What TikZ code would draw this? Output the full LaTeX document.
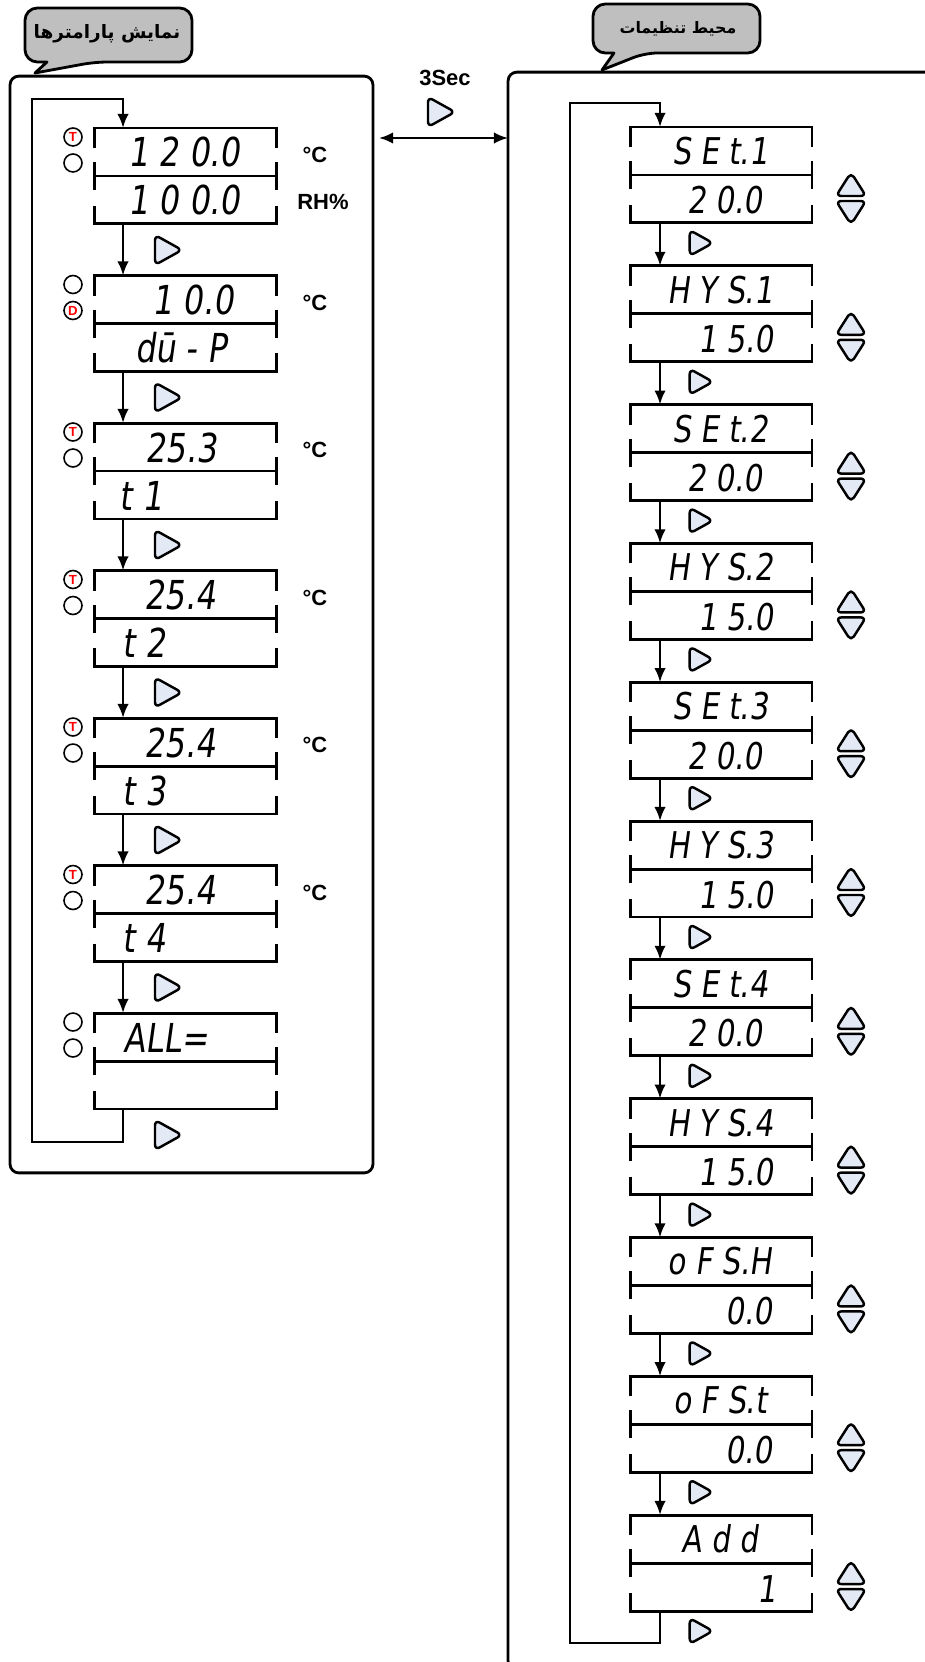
\documentclass[tikz,border=0pt]{standalone}
\usepackage{fontspec}
\setmainfont{Liberation Sans}
\newfontfamily\segfont[FakeStretch=0.8,FakeSlant=0.14]{DejaVu Sans}
\newfontfamily\farsifont[Script=Arabic]{DejaVu Sans}
\TeXXeTstate=1
\usepackage{xcolor}
\usepackage{tikz}
\usetikzlibrary{calc, arrows.meta}

\definecolor{keyblue}{HTML}{E3E9F5}
\definecolor{bubblegray}{HTML}{BFBFBF}

\tikzset{
  panel/.style={draw, line width=1.6pt, rounded corners=5pt, inner sep=0pt, outer sep=0pt},
  lcd/.style={inner sep=0pt, outer sep=0pt, minimum height=1.92cm},
  frame/.style={line width=1.7pt},
  segl/.style={inner sep=0pt, anchor=base, font=\fontsize{22.7}{24}\segfont},
  segr/.style={inner sep=0pt, anchor=base, font=\fontsize{21}{23}\segfont},
  led/.style={draw, circle, line width=0.9pt, minimum size=0.36cm, inner sep=0pt, text=red, font=\fontsize{7.5}{8}\selectfont\bfseries},
  unit/.style={inner sep=0pt, font=\fontsize{12.5}{14}\selectfont\bfseries},
  flow/.style={line width=1.4pt},
  key/.style={draw, fill=keyblue, line width=1.4pt, rounded corners=3pt, line join=round},
  bubble/.style={draw, fill=bubblegray, line width=1.6pt, line join=round},
  title/.style={inner sep=0pt, font=\farsifont\bfseries\fontsize{#1}{15}\selectfont},
  nextkey/.pic={\draw[key] (-12,-15) -- (15,0) -- (-12,15) -- cycle;},
  updown/.pic={\draw[key] (-15,-2.5) -- (0,-26) -- (15,-2.5) -- cycle;
               \draw[key] (-15,2.5) -- (0,26) -- (15,2.5) -- cycle;},
}

% frame of one display, gaps in the sides
\newcommand{\lcdframe}[1]{%
  \draw[frame] ($(#1.north west)+(0,20)$) -- (#1.north west) -- (#1.north east) -- ($(#1.north east)+(0,20)$);
  \draw[frame] ($(#1.north west)+(0,34)$) -- ($(#1.north west)+(0,62)$);
  \draw[frame] ($(#1.north east)+(0,34)$) -- ($(#1.north east)+(0,62)$);
  \draw[frame] (#1.west) -- (#1.east);
  \draw[frame] ($(#1.south west)+(0,-18)$) -- (#1.south west) -- (#1.south east) -- ($(#1.south east)+(0,-18)$);
}

\begin{document}
\begin{tikzpicture}[x=0.02cm, y=-0.02cm, >={Latex[length=8pt,width=6.5pt]}]
    \useasboundingbox (0,0) rectangle (925,1662);

    % two panels
    \node[panel, minimum width=7.26cm, minimum height=21.94cm] (lpanel) at (191.5,624.5) {};
    \node[panel, minimum width=9.04cm, minimum height=31.96cm] (rpanel) at (734,871) {};

    % callouts
    \draw[bubble] (47,62) [rounded corners=7pt] -- (25,62) -- (25,8) -- (192,8) -- (192,62) -- (95,62) [sharp corners] -- (35,73) -- cycle;
    \node[title=10.5] (ltitle) at (107,34) {\beginR نمایش پارامترها\endR};
    \draw[bubble] (614,53) [rounded corners=7pt] -- (593,53) -- (593,4) -- (760,4) -- (760,53) -- (645,53) [sharp corners] -- (602,70) -- cycle;
    \node[title=9] (rtitle) at (678,29) {\beginR محیط تنظیمات\endR};

    % switch between panels
    \node[unit] (hold) at (445,78) {3Sec};
    \pic at (440,112) {nextkey};
    \coordinate (sw) at (0,138);
    \draw[flow,<->] ($(lpanel.east |- sw)+(6,0)$) -- (rpanel.west |- sw);

    % parameter displays
    \foreach \i/\ta/\xa/\tb/\xb in {0/{1 2 0.0}/184/{1 0 0.0}/184, 1/{1 0.0}/193/{dū - P}/181,
        2/{25.3}/181/{t 1}/141, 3/{25.4}/180/{t 2}/144, 4/{25.4}/180/{t 3}/144,
        5/{25.4}/180/{t 4}/144, 6/{ALL=}/166/{}/166} {
        \pgfmathsetmacro\t{128+147.5*\i}
        \node[lcd, minimum width=3.66cm] (l\i) at (185.5,\t+48) {};
        \lcdframe{l\i}
        \node[segl] (l\i-a) at (\xa,\t+39) {\ta};
        \node[segl] (l\i-b) at (\xb,\t+87) {\tb};
        \pic at (167,\t+122) {nextkey};
    }
    \foreach \i/\lt/\lb in {0/T/{}, 1/{}/D, 2/T/{}, 3/T/{}, 4/T/{}, 5/T/{}, 6/{}/{}} {
        \pgfmathsetmacro\t{128+147.5*\i}
        \node[led] (l\i-t) at (73,\t+9) {\lt};
        \node[led] (l\i-d) at (73,\t+35) {\lb};
    }
    \foreach \i in {0,...,5} {
        \pgfmathsetmacro\t{128+147.5*\i}
        \node[unit] (l\i-u) at (315,\t+27) {°C};
    }
    \node[unit] (l0-rh) at (323,202) {RH\%};

    \foreach \i in {0,...,5} {
        \pgfmathtruncatemacro\j{\i+1}
        \draw[flow,->] ($(l\i.south west)+(29,0)$) -- ($(l\j.north west)+(29,0)$);
    }
    \coordinate (lret-b) at (32,1142);
    \coordinate (lret-t) at (32,99);
    \draw[flow,->] ($(l6.south west)+(29,0)$) |- (lret-b) -- (lret-t) -| ($(l0.north west)+(29,0)$);

    % settings displays
    \foreach \i/\ta/\tb/\xb in {0/{S E t.1}/{2 0.0}/725, 1/{H Y S.1}/{1 5.0}/736,
        2/{S E t.2}/{2 0.0}/725, 3/{H Y S.2}/{1 5.0}/736, 4/{S E t.3}/{2 0.0}/725,
        5/{H Y S.3}/{1 5.0}/736, 6/{S E t.4}/{2 0.0}/725, 7/{H Y S.4}/{1 5.0}/736,
        8/{o F S.H}/{0.0}/749, 9/{o F S.t}/{0.0}/749, 10/{A d d}/{1}/767} {
        \pgfmathsetmacro\t{127+138.8*\i}
        \node[lcd, minimum width=3.64cm] (r\i) at (721,\t+48) {};
        \lcdframe{r\i}
        \node[segr] (r\i-a) at (720,\t+37.5) {\ta};
        \node[segr] (r\i-b) at (\xb,\t+87) {\tb};
        \pic at (851,\t+71.5) {updown};
        \pic[scale=0.86] at (700,\t+116) {nextkey};
    }

    \foreach \i in {0,...,9} {
        \pgfmathtruncatemacro\j{\i+1}
        \draw[flow,->] ($(r\i.south west)+(30,0)$) -- ($(r\j.north west)+(30,0)$);
    }
    \coordinate (rret-b) at (570,1643);
    \coordinate (rret-t) at (570,103);
    \draw[flow,->] ($(r10.south west)+(30,0)$) |- (rret-b) -- (rret-t) -| ($(r0.north west)+(30,0)$);
\end{tikzpicture}
\end{document}
